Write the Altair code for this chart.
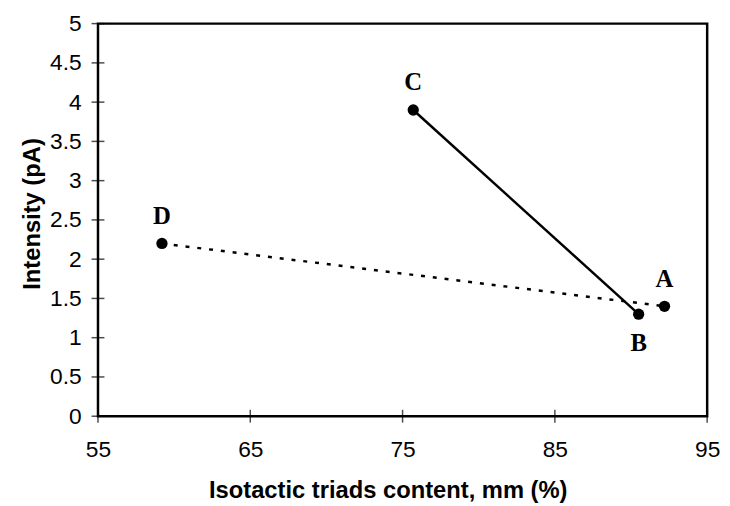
import altair as alt
import pandas as pd

samples = ["A", "B", "C", "D"]
mm_content = [92.2, 90.5, 75.7, 59.2]
intensity = [1.4, 1.3, 3.9, 2.2]
solid_pair = ["C", "B"]
dotted_pair = ["D", "A"]
below_labels = ["B"]
x_ticks = [55, 65, 75, 85, 95]
y_ticks = [0, 0.5, 1, 1.5, 2, 2.5, 3, 3.5, 4, 4.5, 5]

df = pd.DataFrame({"sample": samples, "mm": mm_content, "intensity": intensity})
solid_df = df.set_index("sample").loc[solid_pair].reset_index()
solid_df["order"] = range(len(solid_df))
dotted_df = df.set_index("sample").loc[dotted_pair].reset_index()
dotted_df["order"] = range(len(dotted_df))
ytick_df = pd.DataFrame({"intensity": y_ticks})
xtick_df = pd.DataFrame({"mm": x_ticks})

W, H = 616, 397
xscale = alt.Scale(domain=[55, 95], nice=False, zero=False)
yscale = alt.Scale(domain=[0, 5], nice=False, zero=False)

x_axis = alt.Axis(
    values=x_ticks, labelFont="Liberation Sans", labelFontSize=23, labelColor="black",
    labelPadding=23, labelFlush=False, labelOverlap=False,
    title="Isotactic triads content, mm (%)", titleFont="Liberation Sans",
    titleFontSize=24, titleFontWeight="bold", titleColor="black",
    titleX=293, titleY=82, titleBaseline="alphabetic", titleAlign="center",
    domain=False, ticks=False, grid=False,
)
y_axis = alt.Axis(
    values=y_ticks, format="~g", labelFont="Liberation Sans", labelFontSize=23,
    labelColor="black", labelPadding=17, labelFlush=False, labelOverlap=False,
    title="Intensity (pA)", titleFont="Liberation Sans",
    titleFontSize=24, titleFontWeight="bold", titleColor="black",
    titleX=-59, titleY=192, titleBaseline="alphabetic", titleAlign="center", titleAngle=270,
    domain=False, ticks=False, grid=False,
)

X = alt.X("mm:Q", scale=xscale, axis=x_axis)
Y = alt.Y("intensity:Q", scale=yscale, axis=y_axis)

solid = alt.Chart(solid_df).mark_line(color="black", strokeWidth=2.5).encode(
    x=X, y=Y, order="order:O",
)
dotted = alt.Chart(dotted_df).mark_line(color="black", strokeWidth=2.5, strokeDash=[4, 8]).encode(
    x=X, y=Y, order="order:O",
)
points = alt.Chart(df).mark_circle(color="black", size=130, opacity=1).encode(x=X, y=Y)
labels_above = alt.Chart(df).transform_filter(
    ~alt.FieldOneOfPredicate(field="sample", oneOf=below_labels)
).mark_text(font="Liberation Serif", fontSize=25, fontWeight="bold", color="black",
            baseline="alphabetic", dy=-20).encode(x=X, y=Y, text="sample:N")
labels_below = alt.Chart(df).transform_filter(
    alt.FieldOneOfPredicate(field="sample", oneOf=below_labels)
).mark_text(font="Liberation Serif", fontSize=25, fontWeight="bold", color="black",
            baseline="alphabetic", dy=37).encode(x=X, y=Y, text="sample:N")
yt = alt.Chart(ytick_df).mark_tick(
    color="black", size=13, thickness=1.5, orient="horizontal"
).encode(y=Y, x=alt.value(0))
xt = alt.Chart(xtick_df).mark_tick(
    color="black", size=13, thickness=1.5, orient="vertical"
).encode(x=X, y=alt.value(H))

chart = alt.layer(solid, dotted, points, labels_above, labels_below, yt, xt).properties(
    width=W, height=H, autosize="none",
    padding={"left": 91, "top": 13, "right": 15, "bottom": 88},
    background="white",
).configure_view(stroke="black", strokeWidth=2.5)

chart.save("out.html", embed_options={"renderer": "svg", "actions": False})
